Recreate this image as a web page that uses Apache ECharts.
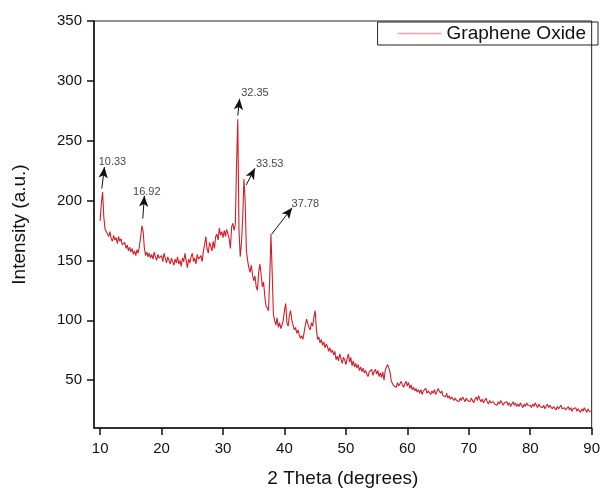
<!DOCTYPE html>
<html>
<head>
<meta charset="utf-8">
<script src="https://cdn.jsdelivr.net/npm/echarts@6/dist/echarts.min.js"></script>
<style>html,body{margin:0;padding:0;background:#fff}#c{width:603px;height:493px}</style>
</head>
<body>
<div id="c"></div>
<script>
// 2-theta grid: 10.0 .. 90.0, step 0.2
const thetaStart = 10.0;
const thetaStep = 0.2;
const intensity = [
183,198,207,186,176,176,172,170,174,168,
166,171,167,169,164,170,166,168,163,162,
165,160,163,158,161,157,160,155,158,154,
159,156,162,170,179,174,160,154,157,153,
156,152,155,151,157,153,150,155,152,151,
154,149,156,152,148,153,150,147,152,149,
146,151,148,153,147,150,145,152,149,156,
150,144,151,148,153,156,149,152,147,155,
151,150,154,149,158,163,170,160,156,165,
162,158,166,160,170,172,167,177,171,174,
169,175,170,176,172,168,160,178,181,175,
180,230,268,175,153,165,185,218,200,158,
150,144,140,146,138,133,137,128,125,140,
147,138,128,132,120,112,110,108,135,172,
140,105,100,96,102,94,98,93,96,100,
108,114,98,95,104,108,100,96,92,94,
89,92,88,85,87,84,90,96,101,97,
94,92,98,95,103,108,92,84,86,81,
84,79,82,77,80,78,74,77,73,75,
71,74,67,70,66,72,68,64,69,67,
63,68,72,65,69,62,66,61,64,60,
63,58,61,57,60,56,58,55,53,57,
56,59,54,57,59,55,58,53,56,52,
57,50,58,61,63,60,56,49,47,45,
46,44,48,45,47,49,46,44,47,49,
45,48,43,46,42,44,41,43,40,42,
39,42,38,41,40,43,39,41,40,38,
41,39,42,38,40,43,44,39,41,37,
38,36,39,35,37,34,36,35,33,35,
33,34,32,35,33,36,34,32,35,33,
34,32,35,33,31,34,36,33,37,34,
32,34,31,33,35,32,30,33,31,30,
32,30,31,29,32,30,33,31,29,31,
30,32,29,31,28,30,32,29,31,28,
30,28,31,29,27,30,28,31,29,28,
29,27,30,28,31,29,27,30,28,29,
27,29,26,28,30,27,29,28,26,28,
27,25,28,26,27,29,26,25,27,25,
26,28,25,27,24,26,25,27,24,26,
25,23,26,24,27,25,23,26,24,25,
24
];
const xTicks = [10,20,30,40,50,60,70,80,90];
const yTicks = [50,100,150,200,250,300,350];
// peak annotations: label, arrow tail [x,y], arrow tip [x,y], label position [x,y]
const peakLabels = ['10.33','16.92','32.35','33.53','37.78'];
const arrowTail = [[10.27,210],[16.94,185],[32.4,271],[33.77,213],[37.93,172]];
const arrowTip  = [[10.7,228],[17.2,204],[32.7,285],[35.2,227],[41.25,194]];
const labelPos  = [[12.0,232.5],[17.6,207.5],[35.2,289.5],[37.6,230.5],[43.4,197.5]];

const seriesData = intensity.map((v,i)=>[+(thetaStart + i*thetaStep).toFixed(1), v]);
const font = "'Liberation Sans', Arial, sans-serif";

const chart = echarts.init(document.getElementById('c'), null, {renderer:'canvas'});
chart.setOption({
  animation:false,
  backgroundColor:'#fff',
  grid:{left:94, right:4, top:21, bottom:59, show:true, borderColor:'#222', borderWidth:1, backgroundColor:'transparent'},
  legend:{
    data:[{name:'Graphene Oxide', icon:'rect', itemStyle:{color:'#eda3ab', opacity:1, borderWidth:0}}],
    right:5, top:22,
    borderColor:'#222', borderWidth:1, borderRadius:0,
    padding:[2,12,2,20], itemWidth:44, itemHeight:1.3, itemGap:6,
    textStyle:{fontFamily:font, fontSize:19, color:'#111'}
  },
  xAxis:{
    type:'value', min:9, max:90,
    name:'2 Theta (degrees)', nameLocation:'middle', nameGap:41,
    nameTextStyle:{fontFamily:font, fontSize:19, color:'#111'},
    axisLine:{onZero:false, lineStyle:{color:'#111', width:1.5}},
    axisTick:{show:true, inside:false, length:7, customValues:xTicks, lineStyle:{color:'#111', width:1.5}},
    axisLabel:{customValues:xTicks, fontFamily:font, fontSize:15, color:'#111', margin:13},
    splitLine:{show:false}
  },
  yAxis:{
    type:'value', min:10, max:350,
    name:'Intensity (a.u.)', nameLocation:'middle', nameGap:65, nameRotate:90,
    nameTextStyle:{fontFamily:font, fontSize:19, color:'#111'},
    axisLine:{show:true, onZero:false, lineStyle:{color:'#111', width:1.5}},
    axisTick:{show:true, inside:false, length:7, customValues:yTicks, lineStyle:{color:'#111', width:1.5}},
    axisLabel:{customValues:yTicks, fontFamily:font, fontSize:15, color:'#111', margin:12},
    splitLine:{show:false}
  },
  series:[
    {
      name:'Graphene Oxide', type:'line', data:seriesData,
      showSymbol:false, symbol:'none',
      lineStyle:{color:'#d01f2a', width:1.1},
      itemStyle:{color:'#d01f2a'},
      markLine:{
        silent:true, animation:false,
        symbol:['none','arrow'], symbolSize:[7,11],
        lineStyle:{color:'#111', width:1, type:'solid'},
        label:{show:false},
        emphasis:{disabled:true},
        data: arrowTail.map((t,i)=>[{coord:t},{coord:arrowTip[i]}])
      }
    },
    {
      name:'labels', type:'scatter', symbolSize:1,
      itemStyle:{color:'rgba(0,0,0,0)'}, silent:true,
      label:{show:true, position:'inside', formatter:'{b}', fontFamily:font, fontSize:11, color:'#111'},
      data: labelPos.map((p,i)=>({name:peakLabels[i], value:p}))
    }
  ]
});
</script>
</body>
</html>
